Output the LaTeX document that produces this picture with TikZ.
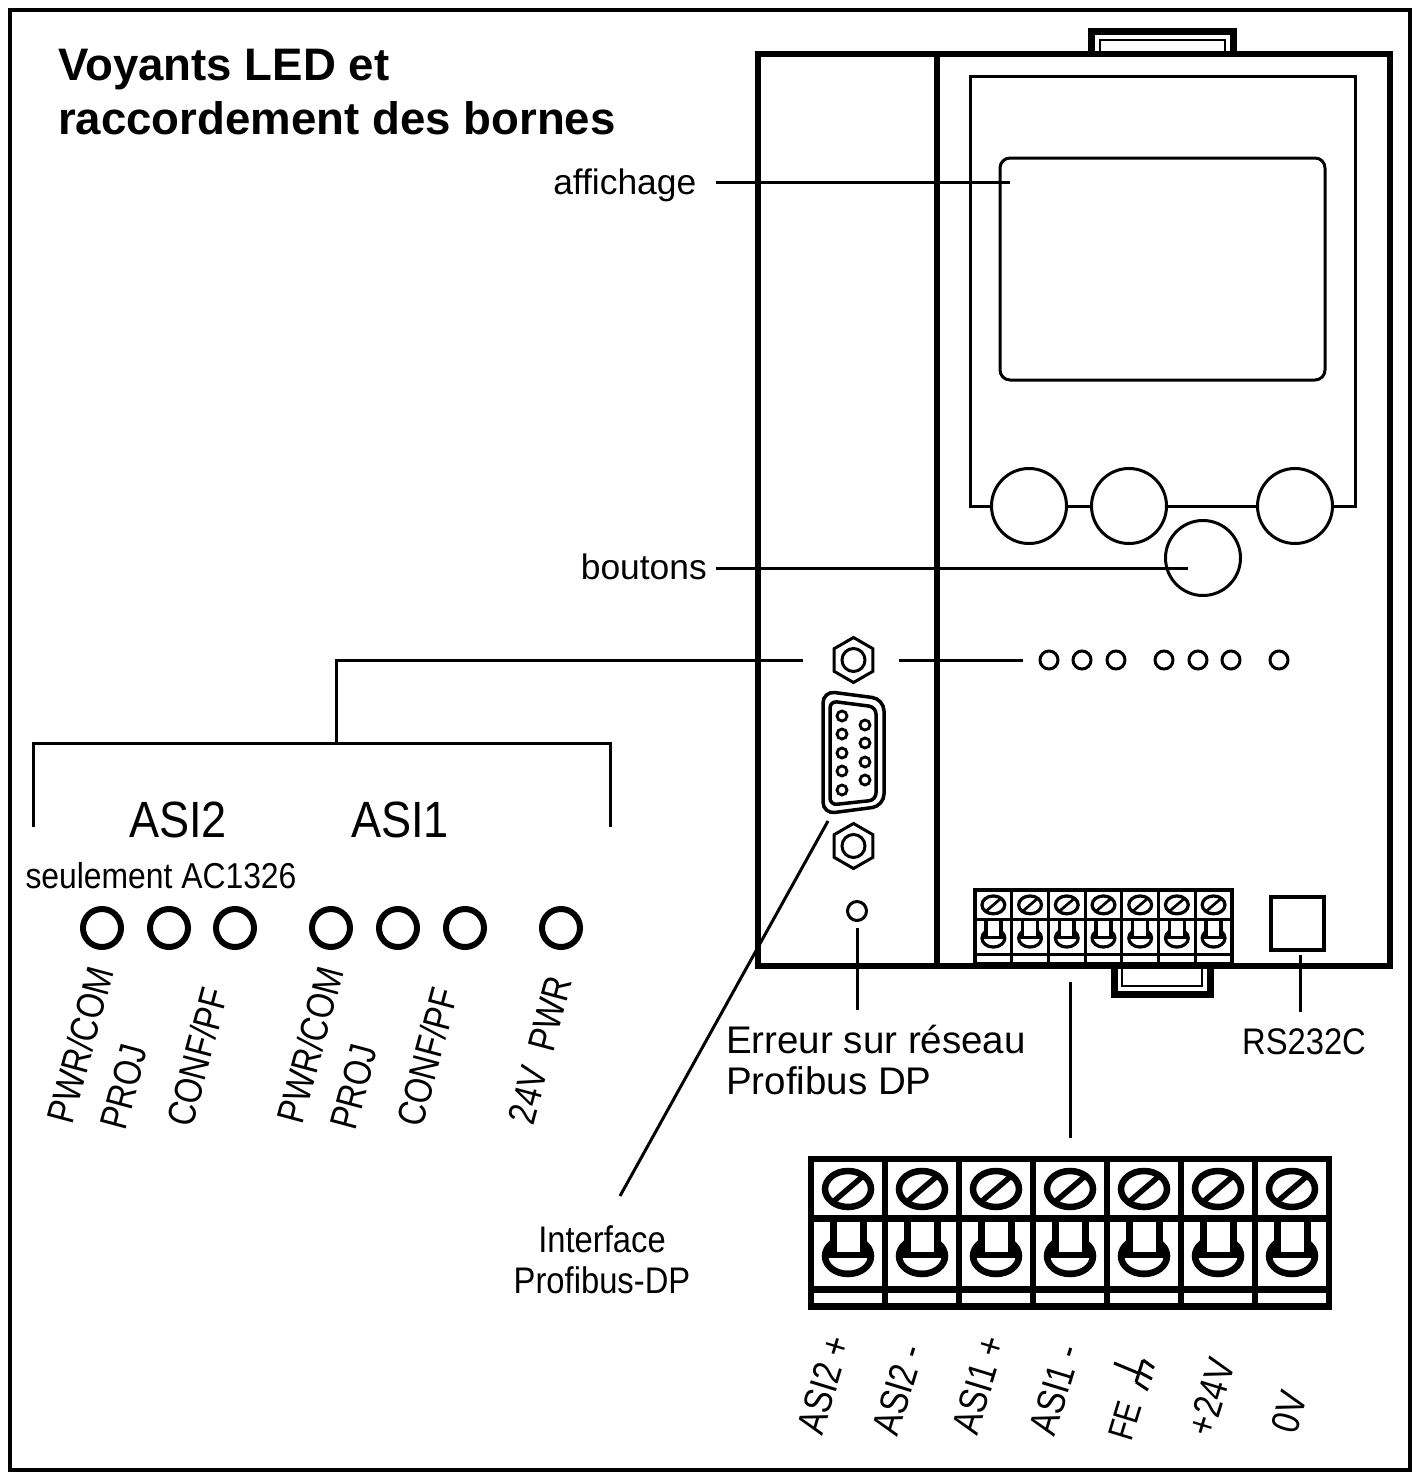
\documentclass[tikz,border=0pt]{standalone}
\usepackage{fontspec}
\setmainfont{Liberation Sans}
\newfontfamily\nara[FakeStretch=0.83]{Liberation Sans}
\newfontfamily\narb[FakeStretch=0.885]{Liberation Sans}
\newcommand{\fs}[1]{\fontsize{#1pt}{#1pt}\selectfont}
\usetikzlibrary{shapes.geometric}
\tikzset{
  x=1pt,y=-1pt,
  lead/.style={line width=3pt,line cap=butt},
  thin shape/.style={line width=3pt,draw=black},
  house/.style={line width=6pt,draw=black},
  bigled/.style={circle,draw=black,line width=6pt,fill=white,minimum size=38pt,inner sep=0pt},
  smallled/.style={circle,draw=black,line width=3pt,fill=white,minimum size=18pt,inner sep=0pt},
  knob/.style={circle,draw=black,line width=3pt,fill=white,minimum size=75pt,inner sep=0pt},
  pin/.style={circle,draw=black,line width=2.8pt,fill=white,minimum size=10pt,inner sep=0pt},
  lbl/.style={inner sep=0pt,align=left,font=\fs{38.5}},
  vlbl/.style={inner sep=0pt,rotate=75,font=\nara\fs{38.8}},
  tlbl/.style={inner sep=0pt,rotate=73,font=\nara\fs{39.5}},
  asi/.style={inner sep=0pt,font=\narb\fs{51}},
  nlbl/.style={inner sep=0pt,font=\narb\fs{37}},
}
% terminal block: x, y, scale
\newcommand{\termblock}[3]{%
 \begin{scope}[shift={(#1,#2)},scale=#3]
  \fill[white] (0,0) rectangle (518,147.5);
  \foreach \i in {0,...,6}{
   \begin{scope}[shift={(37+74*\i,0)}]
    \draw[line width=#3*6.5pt] (0,30) ellipse [x radius=23,y radius=18];
    \draw[line width=#3*5.5pt] (-14,42) -- (14,18);
    \draw[line width=#3*6.5pt,fill=black] (0,97) ellipse [x radius=23,y radius=18];
    \begin{scope}
     \clip (-30,98) rectangle (30,125);
     \fill[white] (0,97) ellipse [x radius=19.5,y radius=14.5];
    \end{scope}
    \fill[white] (-12,60) rectangle (12,93);
    \draw[line width=#3*7pt] (-15,59.5) -- (-15,96) (15,59.5) -- (15,96);
    \draw[line width=#3*6pt] (-20,96) -- (20,96);
   \end{scope}
  }
  \foreach \i in {1,...,6}{\draw[line width=#3*6pt] (74*\i,0) -- (74*\i,147.5);}
  \draw[line width=#3*6.5pt] (0,59.5) -- (518,59.5);
  \draw[line width=#3*6.5pt] (0,130.5) -- (518,130.5);
  \draw[line width=#3*6.5pt] (0,0) rectangle (518,147.5);
 \end{scope}}
\newcommand{\hexnut}[3]{%
 \node[regular polygon,regular polygon sides=6,shape border rotate=30,draw=black,line width=3pt,minimum size=45pt,inner sep=0pt,fill=white] (#1) at (#2,#3) {};
 \node[circle,draw=black,line width=3pt,minimum size=23pt,inner sep=0pt] (#1c) at (#2,#3) {};}
\begin{document}
\begin{tikzpicture}
\useasboundingbox (0,0) rectangle (1420,1478);
\fill[white] (0,0) rectangle (1420,1478);
\draw[line width=3.5pt] (10,10) rectangle (1410,1470);
% title
\node[inner sep=0pt,anchor=base west,font=\fs{45.6}\bfseries] (t1) at (58,80) {Voyants LED et};
\node[inner sep=0pt,anchor=base west,font=\fs{45.6}\bfseries] (t2) at (58,134) {raccordement des bornes};
% clips
\draw[house,line width=7pt] (1091,54) -- (1091,31.5) -- (1233,31.5) -- (1233,54);
\draw[line width=2.5pt] (1100,54) -- (1100,40) -- (1225,40) -- (1225,54);
\draw[house,line width=7pt] (1114.5,966) -- (1114.5,994.5) -- (1210,994.5) -- (1210,966);
\draw[line width=2.5pt] (1122,966) -- (1122,986) -- (1202,986) -- (1202,966);
% housing
\draw[house] (758,54) rectangle (1390,966);
\draw[house] (937,54) -- (937,966);
% panel
\draw[thin shape] (970,76) rectangle (1355,506);
\draw[thin shape,rounded corners=10pt] (1000,158) rectangle (1325,380);
\node[knob] (k1) at (1029,506) {};
\node[knob] (k2) at (1129,506) {};
\node[knob] (k3) at (1295,506) {};
\node[knob] (k4) at (1203,558) {};
% small leds
\foreach \n/\x in {a/1049,b/1082,c/1116,d/1164,e/1198,f/1231,g/1279}{\node[smallled] (s\n) at (\x,660) {};}
% connector
\hexnut{nuta}{853.5}{660}
\hexnut{nutb}{853.5}{846}
\draw[line width=3.5pt,rounded corners=12pt] (823,691) -- (884,699) -- (884,806) -- (823,814) -- cycle;
\draw[line width=3.5pt,rounded corners=7pt] (830,701) -- (876,707) -- (876,800) -- (830,805) -- cycle;
\foreach \n/\y in {1/716,2/734,3/753,4/771,5/790}{\node[pin] (pl\n) at (842,\y) {};}
\foreach \n/\y in {1/725,2/743,3/762,4/780}{\node[pin] (pr\n) at (865,\y) {};}
\node[smallled,minimum size=19pt] (net) at (857,911) {};
% rs232
\draw[thin shape,line width=3.5pt] (1271,897) rectangle (1324,950);
\coordinate (rs) at (1300,955);
% terminal blocks
\termblock{975}{890}{0.496}
\termblock{811}{1159}{1}
% leaders
\coordinate (aff) at (716,182); \coordinate (affe) at (1010,182);
\coordinate (bou) at (716,568); \coordinate (boue) at (1188,568);
\draw[lead] (aff) -- (affe);
\draw[lead] (bou) -- (boue);
\coordinate (l1) at (803,660); \coordinate (l2) at (336,660); \coordinate (l3) at (336,743);
\coordinate (br1) at (33,827); \coordinate (br2) at (33,743); \coordinate (br3) at (610,743); \coordinate (br4) at (610,827);
\draw[lead] (l1) -- (l2) -- (l3);
\draw[lead] (br1) -- (br2) -- (br3) -- (br4);
\coordinate (l4) at (899,660); \coordinate (l5) at (1023,660);
\draw[lead] (l4) -- (l5);
\coordinate (pf1) at (828,821); \coordinate (pf2) at (620,1196);
\draw[lead] (pf1) -- (pf2);
\coordinate (n1) at (857,928); \coordinate (n2) at (857,1010);
\draw[lead] (n1) -- (n2);
\coordinate (tb1) at (1070,982); \coordinate (tb2) at (1070,1138);
\draw[lead] (tb1) -- (tb2);
\coordinate (rs2) at (1300,1012);
\draw[lead] (rs) -- (rs2);
% labels
\node[lbl,anchor=base east,font=\fs{35.4}] (affl) at (696.5,194) {affichage};
\node[lbl,anchor=base east,font=\fs{35.4}] (boul) at (707,579) {boutons};
\node[asi] (asi2) at (178,820) {ASI2};
\node[asi] (asi1) at (400,820) {ASI1};
\node[nlbl,font=\narb\fs{36}] (seul) at (161,876) {seulement AC1326};
\foreach \n/\x in {a/102,b/169,c/235,d/331,e/398,f/465,g/561}{\node[bigled] (b\n) at (\x,928) {};}
\node[vlbl] (v1) at (80,1045) {PWR/COM};
\node[vlbl] (v2) at (124,1087) {PROJ};
\node[vlbl] (v3) at (197,1057) {CONF/PF};
\node[vlbl] (v4) at (310,1045) {PWR/COM};
\node[vlbl] (v5) at (354,1087) {PROJ};
\node[vlbl] (v6) at (427,1057) {CONF/PF};
\node[vlbl] (v7) at (540,1050) {24V\ \ PWR};
\node[lbl,anchor=base west] (err1) at (726,1053) {Erreur sur réseau};
\node[lbl,anchor=base west] (err2) at (726,1094) {Profibus DP};
\node[nlbl] (rsl) at (1304,1042) {RS232C};
\node[nlbl] (if1) at (602,1239) {Interface};
\node[nlbl] (if2) at (602,1280) {Profibus-DP};
\node[tlbl] (c1) at (824,1385) {ASI2 +};
\node[tlbl] (c2) at (898,1390) {ASI2 -};
\node[tlbl] (c3) at (979,1385) {ASI1 +};
\node[tlbl] (c4) at (1055,1390) {ASI1 -};
\node[tlbl,font=\nara\fs{36}] (c5) at (1125,1421) {FE};
\node[tlbl] (c6) at (1211,1397) {+24V};
\node[tlbl] (c7) at (1289,1412) {0V};
% earth symbol
\draw[line width=3pt] (1114,1363) -- (1138,1373);
\draw[line width=3pt] (1143,1360) -- (1136,1382);
\draw[line width=3pt] (1143,1360) -- (1154,1368) (1139,1372) -- (1152,1379) (1136,1382) -- (1148,1390);
\end{tikzpicture}
\end{document}
